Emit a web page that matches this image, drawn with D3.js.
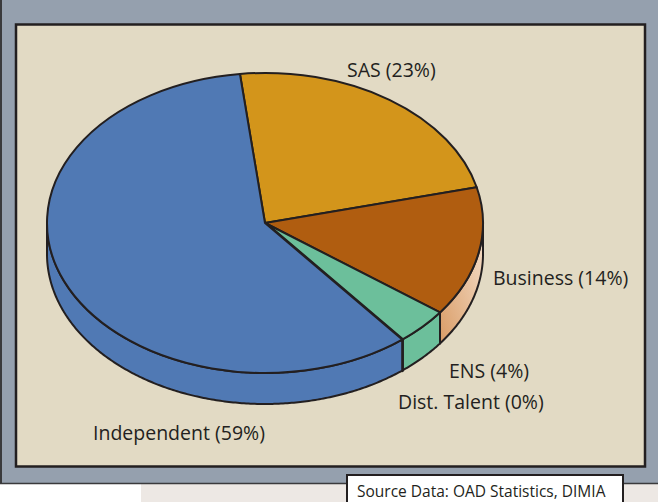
<!DOCTYPE html>
<html>
<head>
<meta charset="utf-8">
<script src="https://cdn.jsdelivr.net/npm/d3@7/dist/d3.min.js"></script>
<style>
  html, body { margin: 0; padding: 0; background: #ffffff; }
  svg { display: block; }
  text { font-family: "Open Sans", "Noto Sans", sans-serif; fill: #231f20; }
</style>
</head>
<body>
<svg id="chart" width="658" height="502"></svg>
<script>
// ---- data ----
const categories = ["SAS", "Business", "ENS", "Dist. Talent", "Independent"];
const values = [23, 14, 4, 0, 59];
const labels = ["SAS (23%)", "Business (14%)", "ENS (4%)", "Dist. Talent (0%)", "Independent (59%)"];
const source = "Source Data: OAD Statistics, DIMIA";

// ---- styles / layout ----
const topColors = ["#d3951b", "#b05d10", "#6cbf9b", "#231f20", "#5079b4"];
const sideColors = ["#d3951b", "url(#bizSide)", "#6cbf9b", "#231f20", "#5079b4"];
const labelPos = [
  {x: 347, y: 77, anchor: "start"},
  {x: 493, y: 285, anchor: "start"},
  {x: 449, y: 378, anchor: "start"},
  {x: 398, y: 409, anchor: "start"},
  {x: 93, y: 440, anchor: "start"}
];
const W = 658, H = 502;
const cx = 265, cy = 223, rx = 218, ry = 150, depth = 31;
const startDeg = -6.6;

const svg = d3.select("#chart");
const defs = svg.append("defs");
const grad = defs.append("linearGradient").attr("id", "bizSide")
  .attr("x1", 0).attr("y1", 1).attr("x2", 1).attr("y2", 0);
grad.append("stop").attr("offset", "0%").attr("stop-color", "#d99c66");
grad.append("stop").attr("offset", "100%").attr("stop-color", "#f6e0cc");

// background frames
svg.append("rect").attr("x", 141).attr("y", 484).attr("width", W - 141).attr("height", H - 484).attr("fill", "#ede8e4");
svg.append("rect").attr("x", 0).attr("y", 0).attr("width", W).attr("height", 484).attr("fill", "#95a0ae");
svg.append("line").attr("x1", 1).attr("x2", 1).attr("y1", 0).attr("y2", 484).attr("stroke", "#3a3a3c").attr("stroke-width", 2);
svg.append("line").attr("x1", 0).attr("x2", W).attr("y1", 483.5).attr("y2", 483.5).attr("stroke", "#3a3a3c").attr("stroke-width", 1.5);
svg.append("rect").attr("x", 16).attr("y", 24.5).attr("width", 629).attr("height", 442)
  .attr("fill", "#e2dac4").attr("stroke", "#231f20").attr("stroke-width", 2.5);

// pie layout
const pie = d3.pie().sort(null).value(d => d)
  .startAngle(startDeg * Math.PI / 180)
  .endAngle(startDeg * Math.PI / 180 + 2 * Math.PI);
const arcs = pie(values);

const ex = d3.scaleLinear().domain([-1, 1]).range([cx - rx, cx + rx]);
const ey = d3.scaleLinear().domain([-1, 1]).range([cy - ry, cy + ry]);
const px = a => ex(Math.sin(a));
const py = a => ey(-Math.cos(a));

// side faces (front half: angles between PI/2 and 3PI/2)
const line = d3.line();
const sides = svg.append("g");
arcs.forEach((d, i) => {
  let a0 = Math.max(d.startAngle, Math.PI / 2);
  let a1 = Math.min(d.endAngle, 3 * Math.PI / 2);
  if (a1 < a0) return;
  const n = Math.max(2, Math.ceil((a1 - a0) / 0.01));
  const topPts = d3.range(n + 1).map(k => { const a = a0 + (a1 - a0) * k / n; return [px(a), py(a)]; });
  const botPts = topPts.slice().reverse().map(p => [p[0], p[1] + depth]);
  sides.append("path")
    .attr("d", line(topPts.concat(botPts)) + "Z")
    .attr("fill", sideColors[i])
    .attr("stroke", "#231f20")
    .attr("stroke-width", i === 3 ? 3.5 : 2)
    .attr("stroke-linejoin", "round");
});

// top faces
const arc = d3.arc().innerRadius(0).outerRadius(rx);
const topFaces = svg.append("g").attr("transform", `translate(${cx},${cy}) scale(1,${ry / rx})`);
topFaces.selectAll("path").data(arcs).join("path")
  .attr("d", arc)
  .attr("fill", (d, i) => topColors[i])
  .attr("stroke", "#231f20")
  .attr("stroke-width", (d, i) => i === 3 ? 3.5 : 2)
  .attr("stroke-linejoin", "round")
  .attr("vector-effect", "non-scaling-stroke");

// labels
svg.append("g").selectAll("text").data(labels).join("text")
  .attr("x", (d, i) => labelPos[i].x)
  .attr("y", (d, i) => labelPos[i].y)
  .attr("text-anchor", (d, i) => labelPos[i].anchor)
  .style("font-size", "19.5px")
  .text(d => d);

// source box
svg.append("rect").attr("x", 347).attr("y", 475).attr("width", 276).attr("height", 32)
  .attr("fill", "#ffffff").attr("stroke", "#231f20").attr("stroke-width", 2);
svg.append("text").attr("x", 357).attr("y", 497).style("font-size", "15.5px").text(source);
</script>
</body>
</html>
